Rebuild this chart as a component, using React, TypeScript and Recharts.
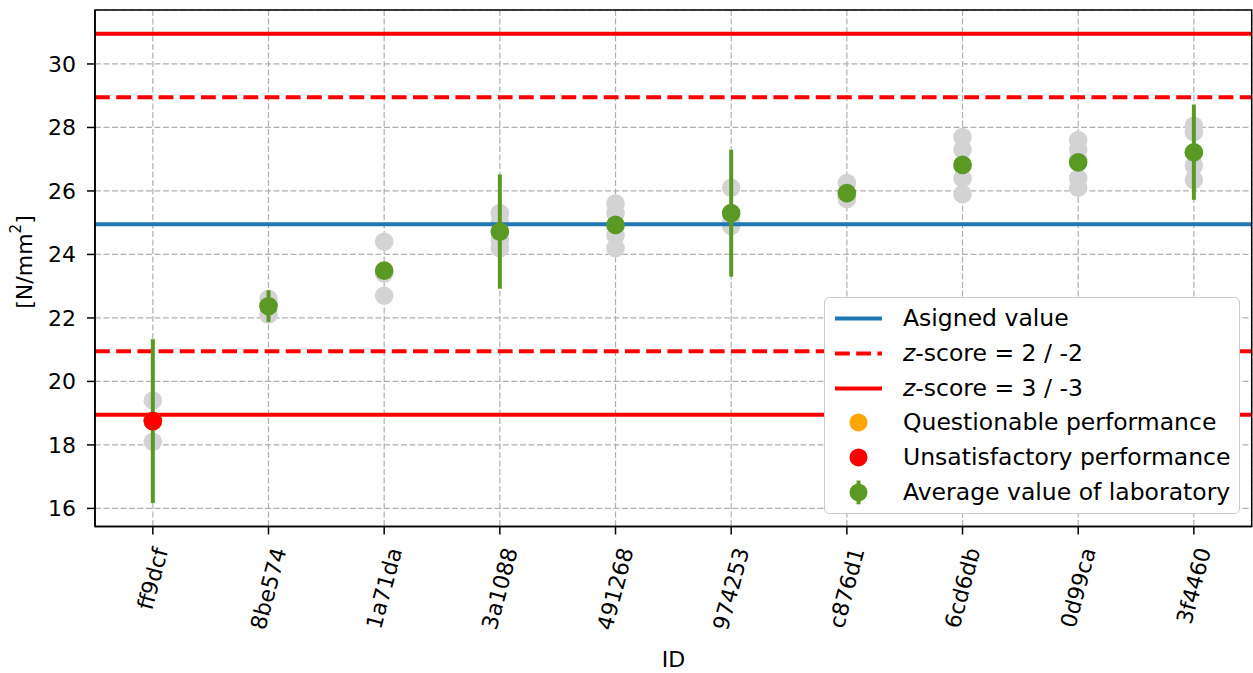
import React from 'react';
import {
  ComposedChart,
  Scatter,
  XAxis,
  YAxis,
  CartesianGrid,
  ReferenceLine,
  ReferenceArea,
  ErrorBar,
  Legend,
  Label,
} from 'recharts';

// laboratory ids, in plotting order
const labIds = ['ff9dcf', '8be574', '1a71da', '3a1088', '491268', '974253', 'c876d1', '6cd6db', '0d99ca', '3f4460'];

// average value of each laboratory
const labMeans = [18.75, 22.37, 23.49, 24.72, 24.93, 25.3, 25.93, 26.82, 26.9, 27.22];

// half width of the error bar of each laboratory
const labUncertainty = [2.58, 0.5, 0.25, 1.8, 0.25, 2.0, 0.25, 0.25, 0.25, 1.5];

// single measurements (grey dots)
const labMeasurements = [
  [19.4, 18.1],
  [22.6, 22.4, 22.1],
  [24.4, 23.4, 22.7],
  [25.3, 25.0, 24.7, 24.45, 24.2],
  [25.6, 25.3, 24.9, 24.6, 24.2],
  [26.1, 25.0, 24.9],
  [26.25, 25.8, 25.75],
  [27.7, 27.3, 26.8, 26.4, 25.9],
  [27.6, 27.3, 27.0, 26.4, 26.1],
  [28.05, 27.85, 27.2, 26.8, 26.35],
];

const assignedValue = 24.95;
const stdDev = 2.0;

const yTicks = [16, 18, 20, 22, 24, 26, 28, 30];
const yDomain = [15.43, 31.7];

const FONT = '"DejaVu Sans", Verdana, sans-serif';
const BLUE = '#1f77b4';
const RED = '#ff0000';
const ORANGE = '#ffa500';
const GREEN = '#5a9a24';
const GREY = '#d3d3d3';

const measurementPoints = labMeasurements.flatMap((vals, i) => vals.map((v) => ({ x: i, y: v })));
const meanPoints = labMeans.map((m, i) => ({
  x: i,
  y: m,
  err: labUncertainty[i],
  z: (m - assignedValue) / stdDev,
}));
const questionable = meanPoints.filter((p) => Math.abs(p.z) >= 2 && Math.abs(p.z) < 3);
const unsatisfactory = meanPoints.filter((p) => Math.abs(p.z) >= 3);

let ctx: CanvasRenderingContext2D | null = null;
function textWidth(s: string, size: number) {
  if (!ctx) ctx = document.createElement('canvas').getContext('2d');
  if (!ctx) return s.length * size * 0.62;
  ctx.font = `${size}px "DejaVu Sans"`;
  return ctx.measureText(s).width;
}

// rotated (75 deg) tick label, box centred under the tick like matplotlib
const XTick = (props: any) => {
  const { x, y, payload } = props;
  const label = labIds[payload.value] ?? '';
  const size = 22;
  const a = (75 * Math.PI) / 180;
  const w = textWidth(label, size);
  const h = size * 1.164;
  const boxH = w * Math.sin(a) + h * Math.cos(a);
  const cy = y + 10.5 + boxH / 2;
  return (
    <text
      x={x}
      y={cy}
      textAnchor="middle"
      dominantBaseline="central"
      fontSize={size}
      fontFamily={FONT}
      fill="#000"
      transform={`rotate(-75, ${x}, ${cy})`}
    >
      {label}
    </text>
  );
};

const grayDot = (p: any) => <circle cx={p.cx} cy={p.cy} r={9.3} fill={GREY} />;
const greenDot = (p: any) => <circle cx={p.cx} cy={p.cy} r={9.3} fill={GREEN} />;
const redDot = (p: any) => <circle cx={p.cx} cy={p.cy} r={9.3} fill={RED} />;
const orangeDot = (p: any) => <circle cx={p.cx} cy={p.cy} r={9.3} fill={ORANGE} />;

const legendItems = [
  { label: 'Asigned value', kind: 'line', color: BLUE },
  { label: '-score = 2 / -2', kind: 'dash', color: RED, italic: 'z' },
  { label: '-score = 3 / -3', kind: 'line', color: RED, italic: 'z' },
  { label: 'Questionable performance', kind: 'dot', color: ORANGE },
  { label: 'Unsatisfactory performance', kind: 'dot', color: RED },
  { label: 'Average value of laboratory', kind: 'errdot', color: GREEN },
];

const LegendBox = () => (
  <div
    style={{
      width: 416,
      height: 217,
      boxSizing: 'border-box',
      border: '1.5px solid #cccccc',
      borderRadius: 5,
      background: '#ffffff',
      fontFamily: FONT,
      fontSize: 23.5,
      color: '#000',
      position: 'relative',
    }}
  >
    {legendItems.map((it, i) => (
      <div
        key={it.label}
        style={{
          position: 'absolute',
          left: 0,
          top: 3 + i * 34.8,
          height: 34.8,
          width: '100%',
          display: 'flex',
          alignItems: 'center',
        }}
      >
        <svg width={78} height={34.8} style={{ flex: 'none' }}>
          {it.kind === 'line' && <line x1={10} x2={57} y1={17.4} y2={17.4} stroke={it.color} strokeWidth={4} />}
          {it.kind === 'dash' && (
            <line x1={10} x2={57} y1={17.4} y2={17.4} stroke={it.color} strokeWidth={4} strokeDasharray="14.8 6.4" />
          )}
          {it.kind === 'dot' && <circle cx={33.5} cy={17.4} r={9} fill={it.color} />}
          {it.kind === 'errdot' && (
            <g>
              <line x1={33.5} x2={33.5} y1={5.5} y2={29.3} stroke={it.color} strokeWidth={4} />
              <circle cx={33.5} cy={17.4} r={9} fill={it.color} />
            </g>
          )}
        </svg>
        <span style={{ whiteSpace: 'nowrap', lineHeight: '34.8px' }}>
          {it.italic && <i>{it.italic}</i>}
          {it.label}
        </span>
      </div>
    ))}
  </div>
);

const YLabel = () => (
  <text
    x={24}
    y={262}
    transform="rotate(-90, 24, 262)"
    textAnchor="middle"
    dominantBaseline="central"
    fontSize={22}
    fontFamily={FONT}
    fill="#000"
  >
    [N/mm
    <tspan dy={-8} fontSize={15}>
      2
    </tspan>
    <tspan dy={8}>]</tspan>
  </text>
);

const XLabel = () => (
  <text x={673.5} y={667} textAnchor="middle" fontSize={22} fontFamily={FONT} fill="#000">
    ID
  </text>
);

export default function App() {
  return (
    <div style={{ position: 'absolute', left: 0, top: 0, width: 1253, height: 673, background: '#fff', fontFamily: FONT }}>
      <ComposedChart width={1253} height={673} margin={{ top: 10, right: 1.3, left: 0, bottom: 0 }}>
        <CartesianGrid stroke="#b0b0b0" strokeWidth={1.2} strokeDasharray="5.9 2.6" />
        <XAxis
          type="number"
          dataKey="x"
          domain={[-0.5, 9.5]}
          ticks={labIds.map((_, i) => i)}
          allowDataOverflow
          height={146.5}
          tickSize={8}
          tickMargin={0}
          tick={<XTick />}
          tickLine={{ stroke: '#000', strokeWidth: 1.5 }}
          axisLine={{ stroke: '#000', strokeWidth: 1.5 }}
          interval={0}
        >
          <Label content={<XLabel />} />
        </XAxis>
        <YAxis
          type="number"
          dataKey="y"
          domain={yDomain}
          ticks={yTicks}
          allowDataOverflow
          width={95}
          tickSize={8}
          tickMargin={11}
          tick={{ fontSize: 22, fill: '#000', fontFamily: FONT }}
          tickLine={{ stroke: '#000', strokeWidth: 1.5 }}
          axisLine={{ stroke: '#000', strokeWidth: 1.5 }}
          interval={0}
        >
          <Label content={<YLabel />} />
        </YAxis>

        <Scatter data={measurementPoints} shape={grayDot} isAnimationActive={false} zIndex={100} />

        <ReferenceLine y={assignedValue} stroke={BLUE} strokeWidth={4} zIndex={200} />
        <ReferenceLine y={assignedValue + 2 * stdDev} stroke={RED} strokeWidth={4} strokeDasharray="14.8 6.4" zIndex={200} />
        <ReferenceLine y={assignedValue - 2 * stdDev} stroke={RED} strokeWidth={4} strokeDasharray="14.8 6.4" zIndex={200} />
        <ReferenceLine y={assignedValue + 3 * stdDev} stroke={RED} strokeWidth={4} zIndex={200} />
        <ReferenceLine y={assignedValue - 3 * stdDev} stroke={RED} strokeWidth={4} zIndex={200} />

        <Scatter data={meanPoints} shape={greenDot} isAnimationActive={false} zIndex={600}>
          <ErrorBar
            dataKey="err"
            direction="y"
            width={0}
            stroke={GREEN}
            strokeWidth={4}
            isAnimationActive={false}
            zIndex={550}
          />
        </Scatter>
        <Scatter data={questionable} shape={orangeDot} isAnimationActive={false} zIndex={700} />
        <Scatter data={unsatisfactory} shape={redDot} isAnimationActive={false} zIndex={700} />

        <ReferenceArea
          x1={-0.5}
          x2={9.5}
          y1={yDomain[0]}
          y2={yDomain[1]}
          fill="none"
          fillOpacity={0}
          stroke="#000"
          strokeWidth={1.5}
          zIndex={800}
        />

        <Legend
          layout="horizontal"
          verticalAlign="middle"
          align="center"
          content={() => <LegendBox />}
          wrapperStyle={{ position: 'absolute', left: 824, top: 297, width: 416, height: 217 }}
        />
      </ComposedChart>
    </div>
  );
}
